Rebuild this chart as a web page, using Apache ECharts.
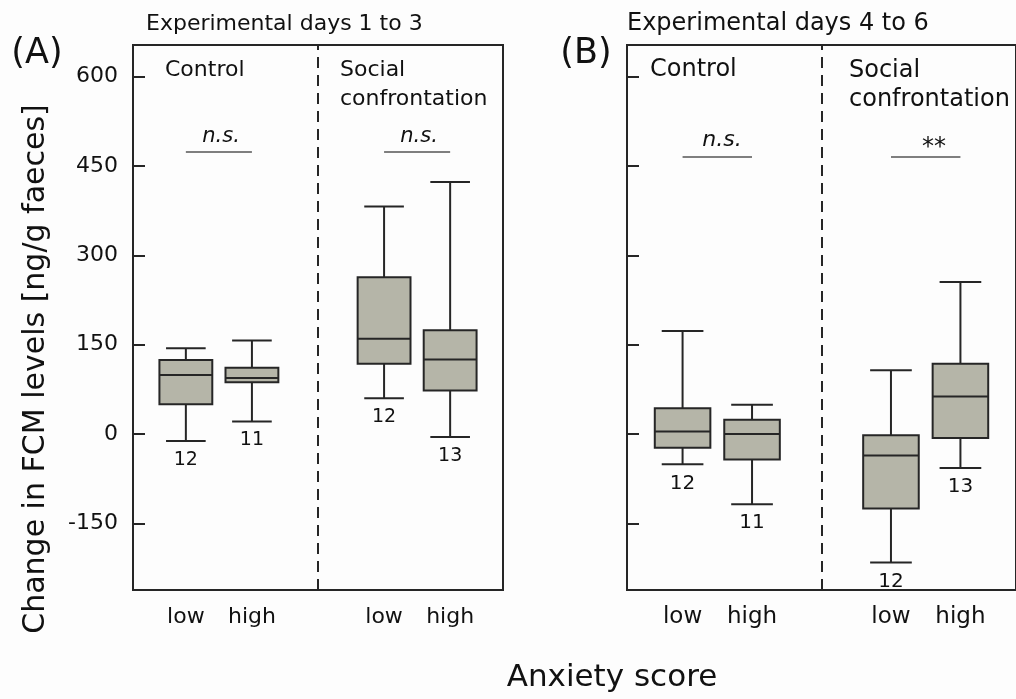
<!DOCTYPE html>
<html>
<head>
<meta charset="utf-8">
<script src="https://cdn.jsdelivr.net/npm/echarts@6/dist/echarts.min.js"></script>
<style>
  html, body { margin: 0; padding: 0; background: #fdfdfd; }
  #chart { width: 1016px; height: 699px; }
</style>
</head>
<body>
<div id="chart"></div>
<script>
// ---------- data ----------
const categories = ['low', 'high', 'low', 'high'];
const groups = ['Control', 'Social confrontation'];
const yTicks = [-150, 0, 150, 300, 450, 600];

// Panel A: experimental days 1 to 3
const minA = [-12, 21, 60, -5];
const q1A  = [50, 87, 118, 73];
const medA = [99, 94, 160, 125];
const q3A  = [124, 111, 263, 174];
const maxA = [144, 157, 382, 423];
const nA   = [12, 11, 12, 13];
const sigA = ['n.s.', 'n.s.'];

// Panel B: experimental days 4 to 6
const minB = [-51, -118, -216, -57];
const q1B  = [-23, -43, -125, -7];
const medB = [4, 0, -36, 63];
const q3B  = [43, 24, -2, 118];
const maxB = [173, 49, 107, 255];
const nB   = [12, 11, 12, 13];
const sigB = ['n.s.', '**'];

// ---------- layout helpers ----------
const FONT = 'DejaVu Sans';
const INK = '#262626';
// slot index: two categories per group, one empty slot between groups
const slot = i => i + (i >= 2 ? 1 : 0);

function buildData(mn, q1, md, q3, mx, n) {
  return categories.map((c, i) => [slot(i), mn[i], q1[i], md[i], q3[i], mx[i], n[i]]);
}

function renderBox(params, api) {
  const x = api.value(0);
  const c = v => api.coord([x, v]);
  const px = c(api.value(3))[0];
  const yMin = c(api.value(1))[1];
  const yQ1 = c(api.value(2))[1];
  const yMed = c(api.value(3))[1];
  const yQ3 = c(api.value(4))[1];
  const yMax = c(api.value(5))[1];
  const bw = api.size([0.8, 0])[0];
  const cw = api.size([0.6, 0])[0];
  const ls = { stroke: INK, lineWidth: 2 };
  const fs = params.seriesIndex === 0 ? 19 : 20;
  return {
    type: 'group',
    children: [
      { type: 'line', shape: { x1: px, y1: yMax, x2: px, y2: yQ3 }, style: ls },
      { type: 'line', shape: { x1: px, y1: yQ1, x2: px, y2: yMin }, style: ls },
      { type: 'line', shape: { x1: px - cw / 2, y1: yMax, x2: px + cw / 2, y2: yMax }, style: ls },
      { type: 'line', shape: { x1: px - cw / 2, y1: yMin, x2: px + cw / 2, y2: yMin }, style: ls },
      { type: 'rect', shape: { x: px - bw / 2, y: yQ3, width: bw, height: yQ1 - yQ3 },
        style: { fill: '#b5b5a8', stroke: INK, lineWidth: 2 } },
      { type: 'line', shape: { x1: px - bw / 2, y1: yMed, x2: px + bw / 2, y2: yMed }, style: ls },
      { type: 'text', style: { text: String(api.value(6)), x: px, y: yMin + 19,
          align: 'center', verticalAlign: 'middle', textAlign: 'center', textVerticalAlign: 'middle',
          font: fs + 'px "' + FONT + '"', fill: '#111' } }
    ]
  };
}

function sigLines(level) {
  return [
    [{ coord: [slot(0), level] }, { coord: [slot(1), level] }],
    [{ coord: [slot(2), level] }, { coord: [slot(3), level] }]
  ];
}

const Y_MIN = -262, Y_MAX = 653;

function yAxisCfg(gridIndex, showLabels) {
  return {
    type: 'value', gridIndex: gridIndex, min: Y_MIN, max: Y_MAX, position: 'left',
    axisLine: { show: false, onZero: false },
    splitLine: { show: false },
    axisTick: { show: true, inside: true, length: 12, customValues: yTicks,
                lineStyle: { color: INK, width: 2 } },
    axisLabel: { show: showLabels, customValues: yTicks, margin: 15,
                 fontFamily: FONT, fontSize: 22, color: '#111' }
  };
}

function xAxisCfg(gridIndex, fontSize) {
  return {
    type: 'value', gridIndex: gridIndex, min: -0.8, max: 4.8, position: 'bottom',
    axisLine: { show: false, onZero: false }, axisTick: { show: false }, splitLine: { show: false },
    axisLabel: {
      customValues: categories.map((c, i) => slot(i)),
      formatter: v => { const i = categories.findIndex((c, k) => slot(k) === v); return i >= 0 ? categories[i] : ''; },
      margin: 16, fontFamily: FONT, fontSize: fontSize, color: '#111'
    }
  };
}

const chart = echarts.init(document.getElementById('chart'), null, { renderer: 'canvas' });

function txt(text, x, y, size, opts) {
  return Object.assign({
    type: 'text', x: x, y: y,
    style: { text: text, font: size + 'px "' + FONT + '"', fill: '#111',
             align: 'left', verticalAlign: 'middle', textAlign: 'left', textVerticalAlign: 'middle' }
  }, opts || {});
}
function ctxt(text, x, y, size, extra) {
  const t = txt(text, x, y, size);
  t.style.align = 'center'; t.style.textAlign = 'center';
  if (extra) Object.assign(t.style, extra);
  return t;
}

const option = {
  backgroundColor: '#fdfdfd',
  animation: false,
  grid: [
    { left: 133, top: 45, width: 370, height: 545, show: true, borderColor: INK, borderWidth: 2, backgroundColor: 'transparent' },
    { left: 627, top: 45, width: 397, height: 545, show: true, borderColor: INK, borderWidth: 2, backgroundColor: 'transparent' }
  ],
  xAxis: [xAxisCfg(0, 22), xAxisCfg(1, 23)],
  yAxis: [yAxisCfg(0, true), yAxisCfg(1, false)],
  series: [
    {
      type: 'custom', xAxisIndex: 0, yAxisIndex: 0, clip: false,
      renderItem: renderBox,
      encode: { x: 0, y: [1, 2, 3, 4, 5] },
      data: buildData(minA, q1A, medA, q3A, maxA, nA),
      markLine: {
        silent: true, symbol: 'none', label: { show: false },
        lineStyle: { color: '#555', width: 1.5, type: 'solid' },
        data: [
          { xAxis: 2, lineStyle: { color: INK, width: 2, type: [11, 7] } }
        ].concat(sigLines(474))
      }
    },
    {
      type: 'custom', xAxisIndex: 1, yAxisIndex: 1, clip: false,
      renderItem: renderBox,
      encode: { x: 0, y: [1, 2, 3, 4, 5] },
      data: buildData(minB, q1B, medB, q3B, maxB, nB),
      markLine: {
        silent: true, symbol: 'none', label: { show: false },
        lineStyle: { color: '#555', width: 1.5, type: 'solid' },
        data: [
          { xAxis: 2, lineStyle: { color: INK, width: 2, type: [11, 7] } }
        ].concat(sigLines(466))
      }
    }
  ],
  graphic: [
    // panel letters
    ctxt('(A)', 37, 54, 35),
    ctxt('(B)', 586, 54, 35),
    // panel titles
    txt('Experimental days 1 to 3', 146, 24, 22),
    txt('Experimental days 4 to 6', 627, 24, 24),
    // group labels panel A
    txt(groups[0], 165, 70, 22),
    txt('Social', 340, 70.5, 22),
    txt('confrontation', 340, 99, 22),
    // group labels panel B
    txt(groups[0], 650, 70, 24),
    txt('Social', 849, 71, 24),
    txt('confrontation', 849, 99.5, 24),
    // significance labels
    ctxt(sigA[0], 221, 137, 21, { font: 'italic 21px "' + FONT + '"' }),
    ctxt(sigA[1], 419, 137, 21, { font: 'italic 21px "' + FONT + '"' }),
    ctxt(sigB[0], 722, 140, 22, { font: 'italic 22px "' + FONT + '"' }),
    ctxt(sigB[1], 934, 148, 24),
    // axis titles
    ctxt('Anxiety score', 612, 678, 31),
    Object.assign(ctxt('Change in FCM levels [ng/g faeces]', 36, 369, 30), { rotation: Math.PI / 2 })
  ]
};

chart.setOption(option);
</script>
</body>
</html>
